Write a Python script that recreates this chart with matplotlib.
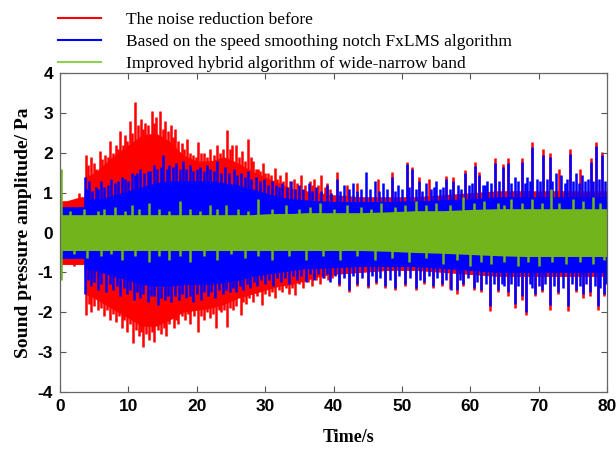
import numpy as np
import matplotlib.pyplot as plt
from matplotlib.lines import Line2D

plt.rcParams['axes.unicode_minus'] = False

# envelope of the dense signal (typical extent)
t_body = [0, 1, 2, 3, 3.5, 3.7, 5, 6, 8, 10, 12, 14, 16, 18, 20, 22, 24, 26, 28, 30,
          32, 34, 36, 38, 40, 44, 48, 52, 56, 60, 64, 68, 72, 76, 80]

red_hi = [0.8, 0.8, 0.85, 0.9, 0.9, 1.4, 1.5, 1.65, 1.95, 2.2, 2.45, 2.5, 2.3, 1.95, 1.8, 1.8, 1.9, 1.75, 1.55, 1.4,
          1.25, 1.1, 1.05, 1.0, 0.95, 0.9, 0.9, 0.9, 0.95, 1.0, 1.05, 1.05, 1.05, 1.05, 1.05]
red_lo = [-0.8, -0.8, -0.8, -0.8, -0.8, -1.55, -1.65, -1.75, -1.95, -2.15, -2.35, -2.35, -2.2, -2.0, -1.95, -1.9, -1.8, -1.65, -1.55, -1.45,
          -1.35, -1.3, -1.2, -1.1, -1.05, -1.0, -0.95, -0.95, -1.0, -1.05, -1.1, -1.1, -1.1, -1.1, -1.1]
blue_hi = [0.65, 0.65, 0.65, 0.65, 0.65, 0.85, 0.85, 0.85, 0.95, 1.05, 1.15, 1.25, 1.3, 1.3, 1.3, 1.3, 1.25, 1.2, 1.1, 1.0,
           0.9, 0.85, 0.82, 0.8, 0.78, 0.78, 0.78, 0.8, 0.82, 0.85, 0.9, 0.9, 0.9, 0.9, 0.9]
blue_lo = [-0.65, -0.65, -0.65, -0.65, -0.65, -0.9, -0.95, -1.0, -1.1, -1.2, -1.3, -1.35, -1.35, -1.3, -1.3, -1.3, -1.25, -1.2, -1.1, -1.05,
           -1.0, -0.95, -0.9, -0.9, -0.88, -0.85, -0.85, -0.85, -0.9, -0.95, -1.0, -1.0, -1.0, -1.0, -1.0]
green_hi = [0.45, 0.45, 0.45, 0.45, 0.45, 0.45, 0.45, 0.45, 0.45, 0.45, 0.45, 0.45, 0.45, 0.45, 0.45, 0.45, 0.45, 0.45, 0.45, 0.47,
            0.48, 0.48, 0.5, 0.5, 0.5, 0.5, 0.52, 0.55, 0.55, 0.58, 0.6, 0.6, 0.6, 0.6, 0.6]
green_lo = [-0.45, -0.45, -0.45, -0.45, -0.45, -0.45, -0.45, -0.45, -0.45, -0.45, -0.45, -0.45, -0.45, -0.45, -0.45, -0.45, -0.45, -0.45, -0.45, -0.45,
            -0.45, -0.45, -0.45, -0.45, -0.45, -0.45, -0.47, -0.5, -0.52, -0.55, -0.58, -0.6, -0.6, -0.6, -0.6]

# tallest peaks sticking out of the envelope (time, value)
red_up_t = [2.8, 3.8, 4.5, 5.8, 6.6, 7.3, 8.2, 8.8, 9.5, 10.2, 11.0, 11.8, 12.5, 13.4, 14.1, 14.6, 15.4, 16.2, 16.8, 17.8,
            18.6, 19.5, 20.2, 21.0, 22.0, 23.0, 23.8, 24.4, 25.2, 25.7, 26.6, 27.5, 28.2, 29.0, 29.7, 30.4, 31.4, 32.2, 33.1, 34.2,
            35.3, 36.5, 37.2, 38.2, 39.0, 40.5, 42.0, 43.5, 46.5, 48.6, 50.7, 51.5, 52.5, 54.0, 56.5, 57.5, 59.2, 60.7, 61.3, 63.6,
            64.8, 65.5, 67.5, 69.1, 70.6, 71.7, 73.0, 74.6, 76.0, 77.6, 78.4, 79.3]
red_up_v = [1.0, 1.95, 1.9, 2.05, 1.95, 2.3, 2.2, 2.55, 2.45, 2.8, 3.28, 2.85, 2.75, 3.05, 2.9, 3.05, 2.8, 2.7, 2.6, 2.25,
            2.35, 1.95, 2.28, 2.0, 2.1, 2.2, 2.1, 2.57, 2.2, 2.2, 2.05, 2.36, 1.8, 1.6, 1.74, 1.5, 1.62, 1.45, 1.53, 1.35,
            1.45, 1.3, 1.35, 1.45, 1.25, 1.52, 1.2, 1.25, 1.35, 1.52, 1.77, 1.65, 1.4, 1.35, 1.43, 1.39, 1.56, 1.77, 1.52, 1.86,
            1.73, 1.86, 1.86, 2.28, 2.09, 1.99, 1.6, 2.11, 1.6, 1.86, 2.28, 2.03]
red_dn_t = [2.0, 3.8, 4.5, 5.5, 6.5, 7.3, 8.2, 9.0, 9.8, 10.7, 11.5, 12.2, 13.0, 13.8, 14.8, 15.5, 16.6, 17.3, 18.3, 19.0,
            20.2, 21.0, 22.0, 22.8, 23.6, 24.4, 25.3, 26.4, 27.2, 28.2, 29.5, 30.5, 31.5, 32.5, 33.5, 34.4, 35.5, 36.8, 38.0, 39.2,
            40.8, 42.2, 43.5, 45.0, 46.2, 47.5, 49.0, 50.5, 52.0, 53.3, 54.5, 55.8, 57.0, 58.0, 59.0, 60.5, 61.5, 62.9, 64.0, 65.5,
            66.5, 67.5, 68.1, 69.5, 70.5, 71.6, 72.8, 74.3, 75.5, 76.5, 77.5, 78.7, 79.5]
red_dn_v = [-0.85, -2.07, -2.0, -1.95, -2.1, -2.2, -2.25, -2.4, -2.5, -2.78, -2.6, -2.86, -2.7, -2.75, -2.55, -2.6, -2.4, -2.3, -2.2, -2.3,
            -2.49, -2.2, -2.15, -2.4, -2.0, -2.36, -1.95, -2.07, -1.8, -1.75, -1.82, -1.6, -1.65, -1.5, -1.55, -1.57, -1.4, -1.35, -1.3, -1.2,
            -1.35, -1.5, -1.35, -1.4, -1.3, -1.4, -1.45, -1.35, -1.45, -1.3, -1.4, -1.35, -1.42, -1.55, -1.35, -1.45, -1.5, -1.98, -1.5, -1.6,
            -1.9, -1.7, -2.07, -1.6, -1.5, -1.94, -1.55, -1.96, -1.5, -1.65, -1.6, -1.94, -1.6]

blue_up_t = [3.7, 4.3, 6.0, 7.5, 9.0, 10.5, 11.7, 12.8, 13.7, 15.1, 16.0, 17.0, 18.0, 19.0, 20.5, 21.5, 23.0, 24.2, 25.4, 26.5,
             27.5, 28.6, 29.8, 31.0, 32.5, 33.8, 35.0, 36.4, 37.5, 39.0, 40.5, 41.5, 42.8, 44.8, 46.0, 47.3, 48.6, 49.5, 50.7, 51.5,
             52.5, 53.5, 55.0, 56.5, 57.5, 58.2, 59.2, 60.7, 61.3, 62.5, 63.6, 64.8, 65.5, 66.5, 67.5, 68.3, 69.1, 70.6, 71.7, 72.5,
             73.3, 74.6, 75.5, 76.3, 77.6, 78.4, 79.3]
blue_up_v = [1.4, 1.3, 1.3, 1.35, 1.4, 1.5, 1.6, 1.55, 1.7, 1.94, 1.7, 1.75, 1.8, 1.7, 1.65, 1.7, 1.8, 1.65, 1.6, 1.5,
             1.55, 1.4, 1.35, 1.3, 1.25, 1.3, 1.2, 1.25, 1.15, 1.2, 1.35, 1.2, 1.25, 1.52, 1.3, 1.25, 1.4, 1.2, 1.72, 1.6,
             1.3, 1.25, 1.3, 1.35, 1.3, 1.2, 1.5, 1.68, 1.45, 1.3, 1.75, 1.65, 1.75, 1.4, 1.78, 1.4, 2.15, 1.95, 1.9, 1.5,
             1.45, 1.98, 1.5, 1.45, 1.78, 2.18, 1.95]
blue_dn_t = [3.7, 4.5, 5.5, 6.8, 7.8, 8.8, 9.8, 10.8, 11.7, 12.8, 14.3, 15.3, 16.3, 17.4, 18.5, 19.5, 20.6, 21.6, 22.6, 23.8,
             24.8, 25.8, 26.8, 27.8, 28.8, 30.0, 31.2, 32.3, 33.5, 34.7, 36.0, 37.2, 38.5, 39.5, 40.8, 42.2, 43.5, 45.0, 46.2, 47.5,
             49.0, 50.5, 52.0, 53.3, 54.5, 55.8, 57.2, 58.0, 59.0, 60.5, 61.5, 62.9, 64.0, 65.5, 66.5, 67.5, 68.1, 69.5, 70.5, 71.6,
             72.8, 74.3, 75.5, 76.5, 77.5, 78.7, 79.5]
blue_dn_v = [-1.55, -1.35, -1.45, -1.5, -1.45, -1.6, -1.55, -1.7, -1.65, -1.75, -1.82, -1.7, -1.75, -1.7, -1.65, -1.75, -1.7, -1.6, -1.65, -1.55,
             -1.5, -1.5, -1.45, -1.4, -1.35, -1.3, -1.35, -1.25, -1.3, -1.2, -1.25, -1.2, -1.15, -1.25, -1.3, -1.45, -1.3, -1.35, -1.25, -1.35,
             -1.4, -1.3, -1.4, -1.25, -1.35, -1.3, -1.44, -1.45, -1.3, -1.4, -1.45, -1.85, -1.45, -1.5, -1.78, -1.6, -2.0, -1.55, -1.45, -1.82,
             -1.5, -1.85, -1.45, -1.55, -1.5, -1.85, -1.55]

green_up_t = [0.1, 3.5, 8.0, 10.5, 13.0, 17.5, 22.0, 24.3, 29.0, 33.0, 38.0, 42.0, 47.0, 52.0, 55.0, 59.0, 62.0, 66.0, 69.0, 71.8, 75.0, 78.0]
green_up_v = [1.6, 0.6, 0.65, 0.7, 0.75, 0.8, 0.7, 0.7, 0.85, 0.7, 0.75, 0.7, 0.75, 0.8, 0.75, 0.9, 0.8, 0.85, 0.85, 1.1, 0.85, 0.9]
green_dn_t = [0.1, 4.0, 9.0, 13.0, 16.0, 19.0, 23.0, 27.0, 31.0, 36.0, 41.0, 46.0, 51.0, 56.0, 60.0, 63.0, 67.0, 70.0, 74.0, 78.0]
green_dn_v = [-1.2, -0.65, -0.7, -0.75, -0.7, -0.75, -0.7, -0.65, -0.7, -0.7, -0.7, -0.7, -0.75, -0.8, -0.85, -0.8, -0.85, -0.85, -0.8, -0.8]

# medium-height peaks filling the ragged edge
red_up2_t = [4.1, 4.9, 5.3, 6.2, 7.0, 7.7, 8.5, 9.2, 9.8, 10.6, 11.4, 12.1, 12.9, 13.7, 15.0, 15.8, 16.5, 17.3, 18.2, 19.0,
             19.9, 20.6, 21.5, 22.5, 23.4, 24.8, 26.2, 27.0, 27.9, 28.6, 29.3, 30.0, 30.9, 31.8, 32.6, 33.6, 34.7, 35.8, 36.9, 37.7,
             38.7, 39.5]
red_up2_v = [1.7, 1.75, 1.6, 1.85, 1.9, 2.0, 2.1, 2.2, 2.3, 2.5, 2.7, 2.6, 2.7, 2.75, 2.6, 2.55, 2.4, 2.3, 2.1, 2.0,
             1.9, 2.0, 1.9, 1.95, 2.0, 2.1, 1.9, 1.8, 1.9, 1.6, 1.55, 1.5, 1.45, 1.35, 1.3, 1.3, 1.25, 1.2, 1.2, 1.2,
             1.15, 1.1]
red_dn2_t = [4.2, 5.0, 6.0, 6.9, 7.8, 8.6, 9.4, 10.3, 11.1, 11.9, 12.6, 13.4, 14.3, 15.2, 16.0, 16.9, 17.8, 18.7, 19.6, 20.6,
             21.5, 22.4, 23.2, 24.0, 24.8, 25.8, 26.8, 27.7, 28.8, 30.0, 31.0, 32.0, 33.0, 34.0, 35.0, 36.2, 37.4, 38.6, 39.8]
red_dn2_v = [-1.8, -1.85, -1.9, -1.95, -2.05, -2.1, -2.2, -2.3, -2.45, -2.5, -2.55, -2.5, -2.45, -2.4, -2.3, -2.2, -2.1, -2.05, -2.1, -2.1,
             -2.0, -2.05, -1.95, -1.95, -1.9, -1.85, -1.75, -1.65, -1.6, -1.55, -1.5, -1.45, -1.4, -1.4, -1.3, -1.25, -1.2, -1.15, -1.15]
blue_up2_t = [3.9, 4.7, 5.2, 5.6, 6.5, 7.0, 8.0, 8.5, 9.5, 10.0, 11.0, 11.3, 12.3, 13.2, 14.2, 14.7, 15.6, 16.5, 17.5, 18.5,
              19.5, 20.0, 21.0, 22.0, 22.5, 23.5, 24.7, 25.9, 27.0, 28.0, 29.2, 30.4, 31.6, 32.0, 33.2, 34.4, 35.6, 36.9, 38.2, 39.6,
              41.0, 42.2, 43.5, 44.0, 45.4, 46.6, 47.8, 49.0, 50.0, 51.0, 52.0, 53.0, 54.2, 54.7, 55.6, 56.0, 57.0, 58.7, 59.8, 60.2,
              61.8, 62.2, 63.0, 64.2, 66.0, 67.0, 68.0, 68.7, 69.7, 70.2, 71.2, 72.0, 73.8, 74.1, 75.0, 75.9, 76.8, 77.2, 78.0, 78.8,
              79.7]
blue_up2_v = [1.1, 1.05, 1.15, 1.1, 1.15, 1.2, 1.25, 1.3, 1.35, 1.3, 1.45, 1.5, 1.5, 1.55, 1.6, 1.65, 1.6, 1.65, 1.6, 1.6,
              1.55, 1.6, 1.55, 1.6, 1.55, 1.5, 1.5, 1.45, 1.4, 1.35, 1.3, 1.2, 1.2, 1.15, 1.15, 1.1, 1.1, 1.05, 1.05, 1.0,
              1.05, 1.1, 1.05, 1.1, 1.1, 1.05, 1.1, 1.05, 1.1, 1.15, 1.1, 1.05, 1.1, 1.15, 1.1, 1.15, 1.1, 1.1, 1.2, 1.25,
              1.2, 1.2, 1.25, 1.3, 1.25, 1.3, 1.25, 1.3, 1.35, 1.3, 1.35, 1.3, 1.25, 1.35, 1.3, 1.25, 1.3, 1.35, 1.3, 1.35,
              1.3]
blue_dn2_t = [4.1, 5.0, 6.0, 7.3, 8.3, 9.3, 10.3, 11.2, 12.2, 13.3, 13.8, 14.8, 15.8, 16.8, 17.9, 19.0, 20.1, 21.1, 22.1, 23.2,
              24.3, 25.3, 26.3, 27.3, 28.3, 29.4, 30.6, 31.8, 32.9, 34.1, 35.3, 36.6, 37.8, 39.0, 40.2, 41.5, 42.8, 44.2, 45.6, 46.8,
              48.2, 49.6, 51.2, 52.6, 53.9, 55.2, 56.5, 58.5, 59.6, 61.0, 62.3, 63.4, 64.6, 65.0, 66.0, 67.0, 68.8, 69.0, 70.0, 71.0,
              72.2, 73.5, 74.9, 76.0, 77.0, 78.2, 79.0, 79.8]
blue_dn2_v = [-1.2, -1.25, -1.3, -1.3, -1.35, -1.4, -1.45, -1.5, -1.55, -1.6, -1.6, -1.65, -1.6, -1.6, -1.55, -1.6, -1.55, -1.5, -1.5, -1.45,
              -1.45, -1.4, -1.35, -1.3, -1.25, -1.2, -1.2, -1.15, -1.15, -1.1, -1.1, -1.05, -1.05, -1.05, -1.1, -1.15, -1.1, -1.15, -1.1, -1.15,
              -1.2, -1.1, -1.15, -1.2, -1.1, -1.15, -1.2, -1.2, -1.15, -1.25, -1.3, -1.3, -1.3, -1.35, -1.3, -1.35, -1.3, -1.4, -1.35, -1.3,
              -1.35, -1.4, -1.3, -1.35, -1.3, -1.35, -1.4, -1.3]
green_up2_t = [1.5, 5.5, 6.5, 9.5, 11.5, 14.5, 16.0, 19.0, 20.5, 23.0, 26.0, 27.5, 31.0, 35.0, 36.5, 40.0, 44.0, 45.5, 49.0, 50.5,
               53.5, 57.0, 60.5, 64.0, 65.0, 67.5, 70.5, 73.0, 76.5, 79.0]
green_up2_v = [0.55, 0.55, 0.6, 0.55, 0.6, 0.6, 0.55, 0.6, 0.55, 0.6, 0.6, 0.55, 0.6, 0.6, 0.65, 0.6, 0.65, 0.6, 0.65, 0.7,
               0.7, 0.7, 0.75, 0.75, 0.7, 0.75, 0.75, 0.75, 0.8, 0.75]
green_dn2_t = [2.0, 6.0, 7.5, 11.0, 14.5, 17.5, 21.0, 25.0, 29.0, 33.5, 38.5, 43.5, 48.5, 53.5, 58.0, 61.5, 65.0, 68.5, 72.0, 76.0, 79.5]
green_dn2_v = [-0.55, -0.6, -0.55, -0.6, -0.6, -0.6, -0.6, -0.55, -0.6, -0.6, -0.6, -0.6, -0.65, -0.65, -0.7, -0.75, -0.75, -0.75, -0.75, -0.75, -0.7]

labels = ['The noise reduction before',
          'Based on the speed smoothing notch FxLMS algorithm',
          'Improved hybrid algorithm of wide-narrow band']
red = '#ff0000'
blue = '#0000ff'
green = '#72b41c'

fig = plt.figure(figsize=(6.16, 4.49), dpi=100)
ax = fig.add_axes([0.0974, 0.127, 0.888, 0.710])

series = [
    (red, red_hi, red_lo, red_up_t + red_up2_t, red_up_v + red_up2_v, red_dn_t + red_dn2_t, red_dn_v + red_dn2_v),
    (blue, blue_hi, blue_lo, blue_up_t + blue_up2_t, blue_up_v + blue_up2_v, blue_dn_t + blue_dn2_t, blue_dn_v + blue_dn2_v),
    (green, green_hi, green_lo, green_up_t + green_up2_t, green_up_v + green_up2_v, green_dn_t + green_dn2_t, green_dn_v + green_dn2_v),
]
z = 1
for col, hi, lo, ut, uv, dt, dv in series:
    ax.fill_between(t_body, lo, hi, color=col, lw=0, zorder=z)
    ax.vlines(ut, 0, uv, color=col, lw=1.8, zorder=z + 0.5)
    ax.vlines(dt, 0, dv, color=col, lw=1.8, zorder=z + 0.5)
    z += 1

ax.set_xlim(0, 80)
ax.set_ylim(-4, 4)
ax.set_xticks(np.arange(0, 81, 10))
ax.set_yticks(np.arange(-4, 5, 1))
ax.tick_params(direction='in', top=True, right=True, length=4, width=0.8, color='#555555', pad=5)
for lab in ax.get_xticklabels() + ax.get_yticklabels():
    lab.set_fontfamily('Liberation Sans')
    lab.set_fontweight('bold')
    lab.set_fontsize(12.5)
for s in ax.spines.values():
    s.set_color('#666666')
    s.set_linewidth(0.9)
    s.set_zorder(10)

ax.set_xlabel('Time/s', fontfamily='Liberation Serif', fontweight='bold', fontsize=13)
ax.xaxis.set_label_coords(0.528, -0.115)
ax.set_ylabel('Sound pressure amplitude/ Pa', fontfamily='Liberation Serif', fontweight='bold', fontsize=14)
ax.yaxis.set_label_coords(-0.052, 0.5)

handles = [Line2D([], [], color=c, lw=1.5) for c in [red, blue, '#8fd14f']]
fig.legend(handles, labels, loc='upper left', bbox_to_anchor=(0.083, 0.99), frameon=False,
           prop={'family': 'Liberation Serif', 'size': 12.5}, handlelength=2.5, handletextpad=1.4,
           labelspacing=0.36, borderaxespad=0)

fig.savefig('out.png', dpi=100)
